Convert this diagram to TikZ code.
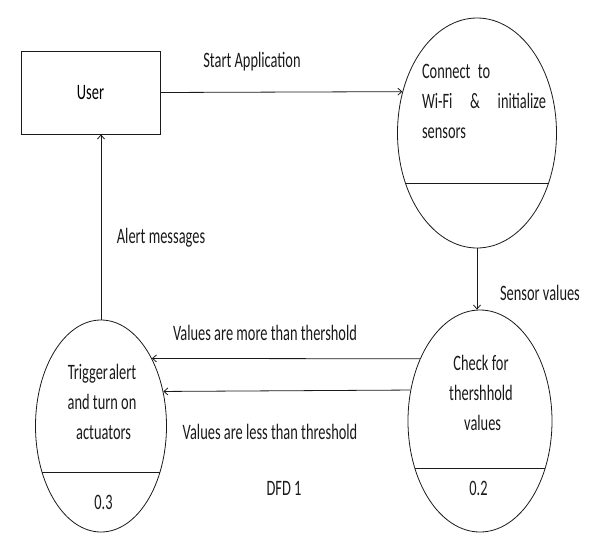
\documentclass[tikz,border=0pt]{standalone}
\usepackage{fontspec}
\setmainfont{Carlito}[FakeStretch=0.655]
\usetikzlibrary{arrows.meta,calc,shapes.geometric}
\definecolor{Ink}{HTML}{1A1A1A}
\tikzset{
  extEntity/.style={rectangle,draw=Ink,line width=0.9pt,fill=white,
    minimum width=139pt,minimum height=83pt,inner sep=0pt,
    font=\fontsize{22}{30}\selectfont},
  dfdBubble/.style={ellipse,draw=Ink,line width=0.8pt,inner sep=0pt},
  bubbleText/.style={font=\fontsize{22}{30}\selectfont,text=Ink,inner sep=0pt},
  bubbleRule/.style={draw=Ink,line width=0.9pt},
  flowArrow/.style={-{Straight Barb[length=4pt,width=7pt]},draw=Ink,line width=0.8pt},
  flowLabel/.style={font=\fontsize{22}{26}\selectfont,text=Ink,inner sep=0pt}
}
\begin{document}
\begin{tikzpicture}[x=1pt,y=1pt]
  \useasboundingbox (0,0) rectangle (590,-533);
  \node[extEntity] (user) at (90.5,-92.5) {User};
  \node[dfdBubble,minimum width=159pt,minimum height=230pt] (connect) at (477,-133) {};
  \node[dfdBubble,minimum width=144pt,minimum height=222pt] (check) at (480,-421) {};
  \node[dfdBubble,minimum width=131pt,minimum height=212pt] (trigger) at (101,-426) {};
  % process texts and numbers
  \node[bubbleText,text width=124pt,align=left] (connectTxt) at (484,-101)
    {Connect to\\\makebox[124pt][s]{Wi-Fi\hfill\&\hfill initialize}\\sensors};
  \node[bubbleText,align=center] (checkTxt) at (481,-393) {Check for\\thershhold\\\ values};
  \node[bubbleText,align=center] (triggerTxt) at (102,-402) {Trigger\kern1pt alert\\and turn on\\\ actuators};
  \node[bubbleText] (checkNo) at (478.5,-488) {0.2};
  \node[bubbleText] (triggerNo) at (103.5,-502) {0.3};
  \draw[bubbleRule] (connect.-145) -- (connect.-35);
  \draw[bubbleRule] (check.-144) -- (check.-36);
  \draw[bubbleRule] (trigger.-142) -- (trigger.-38);
  % data flows
  \draw[flowArrow] (user.east) -- (connect.151);
  \draw[flowArrow] (connect.south) -- (connect.south |- check.north);
  \draw[flowArrow] (check.134) -- (trigger.53);
  \draw[flowArrow] (check.156) -- (trigger.29);
  \draw[flowArrow] (trigger.north) -- (trigger.north |- user.south);
  \node[flowLabel] (startLbl) at (252,-62) {Start Application};
  \node[flowLabel] (sensorLbl) at (540,-293) {Sensor values};
  \node[flowLabel] (moreLbl) at (265,-333) {Values are more than thershold};
  \node[flowLabel] (lessLbl) at (270,-432) {Values are less than threshold};
  \node[flowLabel] (alertLbl) at (161,-238) {Alert messages};
  \node[flowLabel] (dfdLbl) at (284,-488) {DFD 1};
\end{tikzpicture}
\end{document}
